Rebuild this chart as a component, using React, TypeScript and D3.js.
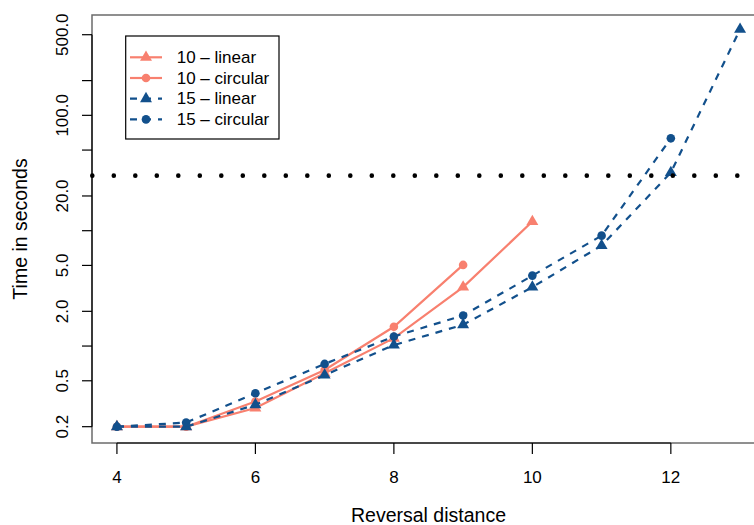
import * as d3 from "d3";

const distance = [4, 5, 6, 7, 8, 9, 10, 11, 12, 13];
const linear10 = [0.2, 0.2, 0.29, 0.58, 1.17, 3.24, 12.0];
const circular10 = [0.2, 0.2, 0.33, 0.62, 1.47, 5.05];
const linear15 = [0.2, 0.2, 0.31, 0.56, 1.02, 1.53, 3.24, 7.43, 31.9, 557];
const circular15 = [0.2, 0.217, 0.39, 0.7, 1.21, 1.84, 4.08, 9.06, 63.2];

const xTicks = [4, 6, 8, 10, 12];
const yTicks = [0.2, 0.5, 1, 2, 5, 10, 20, 50, 100, 200, 500];
const yLabels: Record<number, string> = {
  0.2: "0.2",
  0.5: "0.5",
  2: "2.0",
  5: "5.0",
  20: "20.0",
  100: "100.0",
  500: "500.0",
};
const threshold = 30;

const SALMON = "#F8806F";
const NAVY = "#12508C";
const FONT = "'Liberation Sans', Arial, Helvetica, sans-serif";

const W = 754;
const H = 525;
const PLOT = { left: 92, right: 765, top: 15, bottom: 443 };

type Series = {
  label: string;
  values: number[];
  color: string;
  dashed: boolean;
  marker: "triangle" | "circle";
};

const series: Series[] = [
  { label: "10 \u2013 linear", values: linear10, color: SALMON, dashed: false, marker: "triangle" },
  { label: "10 \u2013 circular", values: circular10, color: SALMON, dashed: false, marker: "circle" },
  { label: "15 \u2013 linear", values: linear15, color: NAVY, dashed: true, marker: "triangle" },
  { label: "15 \u2013 circular", values: circular15, color: NAVY, dashed: true, marker: "circle" },
];

const triangle = d3.symbol(d3.symbolTriangle, 62)();

function Marker({ kind, x, y, color }: { kind: string; x: number; y: number; color: string }) {
  if (kind === "circle") return <circle cx={x} cy={y} r={4.3} fill={color} />;
  return <path d={triangle ?? ""} transform={`translate(${x},${y})`} fill={color} />;
}

export default function App() {
  const x = d3.scaleLinear().domain([3.64, 13.36]).range([PLOT.left, PLOT.right]);
  const y = d3.scaleLog().domain([0.1444, 741]).range([PLOT.bottom, PLOT.top]);

  const line = d3
    .line<number>()
    .x((_, i) => x(distance[i]))
    .y((v) => y(v));

  const legend = { x: 125.7, y: 36, w: 153.3, h: 103 };

  return (
    <svg
      width={W}
      height={H}
      style={{ position: "absolute", left: 0, top: 0, background: "#fff" }}
      fontFamily={FONT}
    >
      {/* plot box */}
      <rect
        x={PLOT.left}
        y={PLOT.top}
        width={PLOT.right - PLOT.left}
        height={PLOT.bottom - PLOT.top}
        fill="none"
        stroke="#6b6b6b"
        strokeWidth={1.5}
      />

      {/* x axis */}
      <line x1={x(4)} x2={x(12)} y1={PLOT.bottom} y2={PLOT.bottom} stroke="#000" strokeWidth={1.2} />
      {xTicks.map((t) => (
        <g key={t}>
          <line x1={x(t)} x2={x(t)} y1={PLOT.bottom} y2={PLOT.bottom + 11} stroke="#000" strokeWidth={1.2} />
          <text x={x(t)} y={477} textAnchor="middle" dominantBaseline="central" fontSize={17}>
            {t}
          </text>
        </g>
      ))}
      <text x={(PLOT.left + PLOT.right) / 2} y={515} textAnchor="middle" dominantBaseline="central" fontSize={19.5}>
        Reversal distance
      </text>

      {/* y axis */}
      <line x1={PLOT.left} x2={PLOT.left} y1={y(500)} y2={y(0.2)} stroke="#000" strokeWidth={1.2} />
      {yTicks.map((t) => (
        <g key={t}>
          <line x1={PLOT.left - 10} x2={PLOT.left} y1={y(t)} y2={y(t)} stroke="#000" strokeWidth={1.2} />
          {yLabels[t] && (
            <text
              transform={`translate(62,${y(t)}) rotate(-90)`}
              textAnchor="middle"
              dominantBaseline="central"
              fontSize={17}
            >
              {yLabels[t]}
            </text>
          )}
        </g>
      ))}
      <text
        transform={`translate(20,${(PLOT.top + PLOT.bottom) / 2}) rotate(-90)`}
        textAnchor="middle"
        dominantBaseline="central"
        fontSize={19.5}
      >
        Time in seconds
      </text>

      {/* series */}
      {series.map((s) => (
        <g key={s.label}>
          <path
            d={line(s.values) ?? ""}
            fill="none"
            stroke={s.color}
            strokeWidth={2.2}
            strokeDasharray={s.dashed ? "7,7" : undefined}
          />
          {s.values.map((v, i) => (
            <Marker key={i} kind={s.marker} x={x(distance[i])} y={y(v)} color={s.color} />
          ))}
        </g>
      ))}

      {/* 30 s threshold */}
      <line
        x1={PLOT.left + 0.3}
        x2={W}
        y1={y(threshold)}
        y2={y(threshold)}
        stroke="#000"
        strokeWidth={4.6}
        strokeLinecap="round"
        strokeDasharray="0,21.5"
      />

      {/* legend */}
      <rect x={legend.x} y={legend.y} width={legend.w} height={legend.h} fill="#fff" stroke="#000" strokeWidth={1.2} />
      {series.map((s, i) => {
        const ly = 57.3 + i * 20.7;
        return (
          <g key={s.label}>
            <line
              x1={130}
              x2={162}
              y1={ly}
              y2={ly}
              stroke={s.color}
              strokeWidth={2.2}
              strokeDasharray={s.dashed ? "7,7" : undefined}
            />
            <Marker kind={s.marker} x={146} y={ly} color={s.color} />
            <text x={176.7} y={ly} dominantBaseline="central" fontSize={17}>
              {s.label}
            </text>
          </g>
        );
      })}
    </svg>
  );
}
